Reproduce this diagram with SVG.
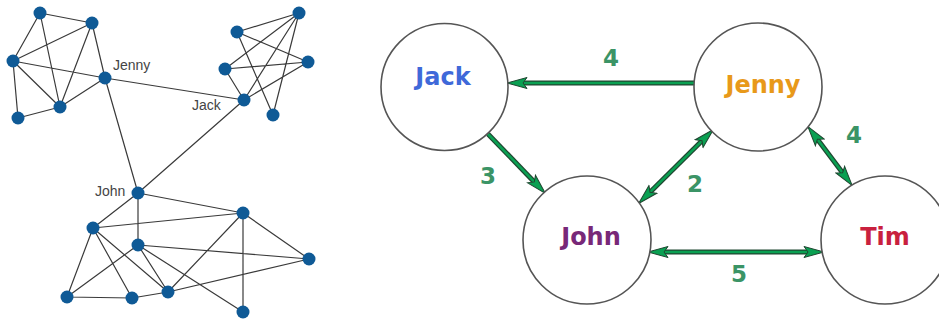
<svg xmlns="http://www.w3.org/2000/svg" width="939" height="320" viewBox="0 0 939 320">
<style>
.e{stroke:#3a3a3a;stroke-width:1.2;fill:none}
.n{fill:#0f5a96}
.lbl{font-family:"Liberation Sans",Arial,sans-serif;font-size:14px;fill:#444}
.c{fill:#fff;stroke:#555;stroke-width:1.6}
.nm{font-family:"DejaVu Sans",Verdana,sans-serif;font-weight:bold;font-size:24px;text-anchor:middle}
.w{font-family:"DejaVu Sans",Verdana,sans-serif;font-weight:bold;font-size:23px;fill:#3b9466;text-anchor:middle}
.cas{stroke:#1f4630;stroke-width:5;fill:none}
.sh{stroke:#0aa052;stroke-width:2.6;fill:none}
</style>
<defs>
<marker id="ah" viewBox="-5 -7 22 14" markerWidth="22" markerHeight="14" refX="0" refY="0" markerUnits="userSpaceOnUse" orient="auto">
<path d="M16,0 L-4,-5.5 L0,0 L-4,5.5 Z" fill="#0aa052" stroke="#1f4630" stroke-width="1"/>
</marker>
<marker id="as" viewBox="-5 -7 22 14" markerWidth="22" markerHeight="14" refX="0" refY="0" markerUnits="userSpaceOnUse" orient="auto-start-reverse">
<path d="M16,0 L-4,-5.5 L0,0 L-4,5.5 Z" fill="#0aa052" stroke="#1f4630" stroke-width="1"/>
</marker>
</defs>
<rect width="939" height="320" fill="#fff"/>
<g id="network">
<g id="network-edges">
<path class="e" d="M40,13L92,23 M40,13L13,61 M40,13L60,107 M92,23L13,61 M92,23L105,78 M92,23L60,107 M13,61L105,78 M13,61L60,107 M13,61L18,118 M18,118L60,107 M60,107L105,78 M105,78L244,100 M105,78L138,193"/>
<path class="e" d="M299,13L237,32 M299,13L225,69 M299,13L244,100 M299,13L273,115 M237,32L308,62 M237,32L273,115 M225,69L308,62 M225,69L244,100 M244,100L308,62 M244,100L138,193"/>
<path class="e" d="M138,193L93,228 M138,193L138,245 M138,193L243,213 M93,228L67,297 M93,228L132,298 M93,228L168,292 M93,228L243,213 M138,245L67,297 M138,245L168,292 M138,245L309,259 M138,245L243,312 M67,297L132,298 M132,298L168,292 M168,292L243,213 M168,292L309,259 M243,213L309,259 M243,213L243,312"/>
</g>
<g id="network-nodes">
<circle class="n" cx="40" cy="13" r="6.5"/>
<circle class="n" cx="92" cy="23" r="6.5"/>
<circle class="n" cx="13" cy="61" r="6.5"/>
<circle class="n" cx="60" cy="107" r="6.5"/>
<circle class="n" cx="18" cy="118" r="6.5"/>
<circle class="n" cx="105" cy="78" r="6.5"/>
<circle class="n" cx="299" cy="13" r="6.5"/>
<circle class="n" cx="237" cy="32" r="6.5"/>
<circle class="n" cx="308" cy="62" r="6.5"/>
<circle class="n" cx="225" cy="69" r="6.5"/>
<circle class="n" cx="244" cy="100" r="6.5"/>
<circle class="n" cx="273" cy="115" r="6.5"/>
<circle class="n" cx="138" cy="193" r="6.5"/>
<circle class="n" cx="93" cy="228" r="6.5"/>
<circle class="n" cx="138" cy="245" r="6.5"/>
<circle class="n" cx="67" cy="297" r="6.5"/>
<circle class="n" cx="132" cy="298" r="6.5"/>
<circle class="n" cx="168" cy="292" r="6.5"/>
<circle class="n" cx="243" cy="213" r="6.5"/>
<circle class="n" cx="309" cy="259" r="6.5"/>
<circle class="n" cx="243" cy="312" r="6.5"/>
</g>
<text class="lbl" x="113" y="70">Jenny</text>
<text class="lbl" x="192" y="110">Jack</text>
<text class="lbl" x="95" y="196">John</text>
</g>
<g id="connectors">
<line class="cas" x1="694" y1="83" x2="523" y2="83"/>
<line class="sh" x1="694" y1="83" x2="523" y2="83" marker-end="url(#ah)"/>
<line class="cas" x1="488" y1="134" x2="534.3" y2="181.9"/>
<line class="sh" x1="488" y1="134" x2="534.3" y2="181.9" marker-end="url(#ah)"/>
<line class="cas" x1="650" y1="192.2" x2="702" y2="140.8"/>
<line class="sh" x1="650" y1="192.2" x2="702" y2="140.8" marker-start="url(#as)" marker-end="url(#as)"/>
<line class="cas" x1="817.4" y1="139.2" x2="842.6" y2="172.8"/>
<line class="sh" x1="817.4" y1="139.2" x2="842.6" y2="172.8" marker-start="url(#as)" marker-end="url(#as)"/>
<line class="cas" x1="664" y1="252" x2="808" y2="252"/>
<line class="sh" x1="664" y1="252" x2="808" y2="252" marker-start="url(#as)" marker-end="url(#as)"/>
<text class="w" x="611" y="66">4</text>
<text class="w" x="488" y="184">3</text>
<text class="w" x="695" y="192">2</text>
<text class="w" x="854" y="143">4</text>
<text class="w" x="739" y="282">5</text>
</g>
<g id="node-jack"><circle class="c" cx="444.5" cy="87" r="63.5"/><text class="nm" x="443" y="85" fill="#3f69d9">Jack</text></g>
<g id="node-jenny"><circle class="c" cx="758" cy="87" r="64"/><text class="nm" x="763" y="93" fill="#e8991a">Jenny</text></g>
<g id="node-john"><circle class="c" cx="587" cy="240" r="64"/><text class="nm" x="591" y="245" fill="#782878">John</text></g>
<g id="node-tim"><circle class="c" cx="885" cy="240" r="64"/><text class="nm" x="885" y="245" fill="#c9203e">Tim</text></g>
</svg>
